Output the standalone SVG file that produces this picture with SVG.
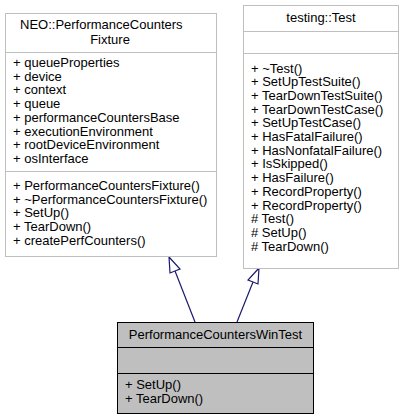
<svg xmlns="http://www.w3.org/2000/svg" width="405" height="419" viewBox="0 0 405 419">
<style>
text{font-family:"Liberation Sans",Arial,sans-serif;font-size:13px;fill:#000}
.c{text-anchor:middle}
.box{fill:#fff;stroke:#bfbfbf;stroke-width:1}
.sep{stroke:#bfbfbf;stroke-width:1}
.main{fill:#bfbfbf;stroke:#000;stroke-width:1}
.msep{stroke:#000;stroke-width:1}
.edge{stroke:#191970;stroke-width:1.2;fill:none}
.head{stroke:#191970;stroke-width:1.2;fill:#fff}
</style>
<rect width="405" height="419" fill="#fff"/>
<g id="connectors">
<path class="edge" d="M195,322 L175,271"/>
<polygon class="head" points="169,257 180,269 170,273"/>
<path class="edge" d="M237,322 L253,282"/>
<polygon class="head" points="259,268 258,284 248,280"/>
</g>
<g id="node_fixture">
<rect class="box" x="5.5" y="13.5" width="211" height="243"/>
<text x="20" y="29">NEO::PerformanceCounters</text>
<text class="c" x="110" y="44">Fixture</text>
<line class="sep" x1="5.5" y1="52.5" x2="216.5" y2="52.5"/>
<text x="13" y="67">+ queueProperties</text>
<text x="13" y="80.7">+ device</text>
<text x="13" y="94.4">+ context</text>
<text x="13" y="108.1">+ queue</text>
<text x="13" y="121.8">+ performanceCountersBase</text>
<text x="13" y="135.5">+ executionEnvironment</text>
<text x="13" y="149.2">+ rootDeviceEnvironment</text>
<text x="13" y="162.9">+ osInterface</text>
<line class="sep" x1="5.5" y1="171.5" x2="216.5" y2="171.5"/>
<text x="13" y="190">+ PerformanceCountersFixture()</text>
<text x="13" y="203.7">+ ~PerformanceCountersFixture()</text>
<text x="13" y="217.4">+ SetUp()</text>
<text x="13" y="231.1">+ TearDown()</text>
<text x="13" y="244.8">+ createPerfCounters()</text>
</g>
<g id="node_test">
<rect class="box" x="243.5" y="5.5" width="155" height="263"/>
<text class="c" x="321" y="22">testing::Test</text>
<line class="sep" x1="243.5" y1="31.5" x2="398.5" y2="31.5"/>
<line class="sep" x1="243.5" y1="53.5" x2="398.5" y2="53.5"/>
<text x="251" y="72.5">+ ~Test()</text>
<text x="251" y="86.2">+ SetUpTestSuite()</text>
<text x="251" y="99.9">+ TearDownTestSuite()</text>
<text x="251" y="113.6">+ TearDownTestCase()</text>
<text x="251" y="127.3">+ SetUpTestCase()</text>
<text x="251" y="141">+ HasFatalFailure()</text>
<text x="251" y="154.7">+ HasNonfatalFailure()</text>
<text x="251" y="168.4">+ IsSkipped()</text>
<text x="251" y="182.1">+ HasFailure()</text>
<text x="251" y="195.8">+ RecordProperty()</text>
<text x="251" y="209.5">+ RecordProperty()</text>
<text x="251" y="223.2"># Test()</text>
<text x="251" y="236.9"># SetUp()</text>
<text x="251" y="250.6"># TearDown()</text>
</g>
<g id="node_wintest">
<rect class="main" x="117.5" y="322.5" width="196" height="91"/>
<text class="c" x="215.5" y="339">PerformanceCountersWinTest</text>
<line class="msep" x1="117.5" y1="347.5" x2="313.5" y2="347.5"/>
<line class="msep" x1="117.5" y1="373.5" x2="313.5" y2="373.5"/>
<text x="125" y="389">+ SetUp()</text>
<text x="125" y="403">+ TearDown()</text>
</g>
</svg>
